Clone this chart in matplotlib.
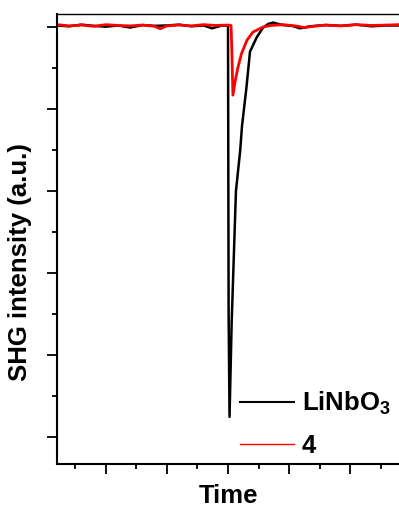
import matplotlib
matplotlib.use("Agg")
import matplotlib.pyplot as plt
from matplotlib.ticker import MultipleLocator

# black trace (LiNbO3), time vs intensity
t_ln = [-2.80, -2.60, -2.40, -2.20, -2.00, -1.80, -1.60, -1.40, -1.20, -1.00,
        -0.80, -0.60, -0.40, -0.26, -0.10, 0.00, 0.01, 0.025, 0.06, 0.13,
        0.20, 0.23, 0.30, 0.36, 0.47, 0.57, 0.66, 0.74, 0.90, 1.05,
        1.18, 1.35, 1.60, 1.85, 2.10, 2.35, 2.60, 2.80]
i_ln = [1.004, 1.002, 1.006, 1.003, 1.001, 1.004, 0.999, 1.005, 1.003, 1.004,
        1.006, 1.002, 1.004, 0.997, 1.004, 1.004, 0.300, 0.049, 0.280, 0.600,
        0.700, 0.760, 0.850, 0.940, 0.975, 0.998, 1.008, 1.011, 1.005, 1.003,
        0.997, 1.002, 1.005, 1.003, 1.006, 1.002, 1.004, 1.004]

# red trace (compound 4)
t_4 = [-2.80, -2.60, -2.40, -2.20, -2.00, -1.80, -1.60, -1.40, -1.20, -1.11,
       -1.00, -0.80, -0.60, -0.40, -0.20, 0.00, 0.05, 0.065, 0.08, 0.12,
       0.16, 0.22, 0.31, 0.41, 0.57, 0.70, 0.90, 1.10, 1.25, 1.40,
       1.60, 1.85, 2.10, 2.35, 2.60, 2.80]
i_4 = [1.006, 1.003, 1.005, 1.002, 1.006, 1.004, 1.003, 1.005, 1.002, 0.996,
       1.003, 1.005, 1.003, 1.006, 1.004, 1.005, 1.004, 0.930, 0.834, 0.870,
       0.900, 0.935, 0.968, 0.988, 1.000, 1.004, 1.006, 1.003, 0.999, 1.002,
       1.005, 1.003, 1.006, 1.004, 1.005, 1.006]

labels = ["LiNbO$_3$", "4"]


def main():
    plt.rcParams["font.family"] = "Liberation Sans"
    plt.rcParams["font.weight"] = "bold"
    plt.rcParams["mathtext.fontset"] = "custom"
    plt.rcParams["mathtext.rm"] = "Liberation Sans:bold"
    plt.rcParams["mathtext.bf"] = "Liberation Sans:bold"
    plt.rcParams["mathtext.default"] = "bf"

    fig = plt.figure(figsize=(3.99, 5.07), dpi=100)
    ax = fig.add_axes([0.1429, 0.0848, 0.8571, 0.8876])

    ax.plot(t_ln, i_ln, color="black", lw=1.8, label=labels[0])
    ax.plot(t_4, i_4, color="red", lw=2.0, label=labels[1])

    ax.set_xlim(-2.8, 2.8)
    ax.set_ylim(-0.066, 1.032)

    ax.xaxis.set_major_locator(MultipleLocator(1))
    ax.xaxis.set_minor_locator(MultipleLocator(0.5))
    ax.yaxis.set_major_locator(MultipleLocator(0.2))
    ax.yaxis.set_minor_locator(MultipleLocator(0.1))
    ax.tick_params(which="major", direction="out", length=7.2, width=1.3,
                   labelbottom=False, labelleft=False)
    ax.tick_params(which="minor", direction="out", length=3.6, width=1.3)

    ax.spines["right"].set_visible(False)
    for s in ["left", "bottom"]:
        ax.spines[s].set_linewidth(1.5)
    ax.spines["top"].set_linewidth(1.0)

    ax.set_xlabel("Time", fontsize=18.5, fontweight="bold", labelpad=7)
    ax.set_ylabel("SHG intensity (a.u.)", fontsize=18.5, fontweight="bold")
    ax.yaxis.set_label_coords(-0.073, 0.449)

    leg = ax.legend(loc="lower left", bbox_to_anchor=(0.467, -0.038),
                    frameon=False, fontsize=18.5, handlelength=2.1,
                    handletextpad=0.3, labelspacing=0.66)
    leg.get_lines()[0].set_linewidth(1.5)
    leg.get_lines()[1].set_linewidth(1.0)

    fig.savefig("out.png", dpi=100)


if __name__ == "__main__":
    main()
